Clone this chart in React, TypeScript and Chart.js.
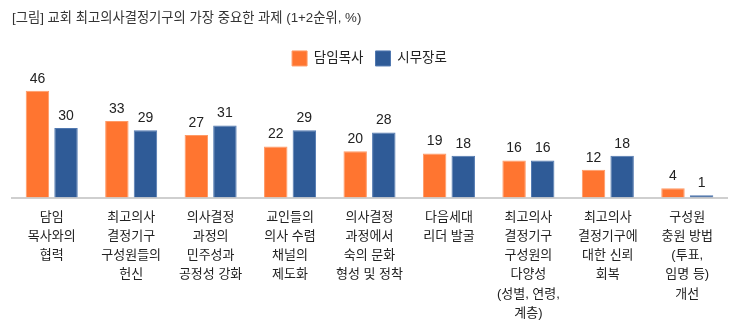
import React, { useEffect, useRef } from "react";
import { Chart, registerables } from "chart.js";

Chart.register(...registerables);

const titleText = "[그림] 교회 최고의사결정기구의 가장 중요한 과제 (1+2순위, %)";
const categories: string[][] = [
  ["담임", "목사와의", "협력"],
  ["최고의사", "결정기구", "구성원들의", "헌신"],
  ["의사결정", "과정의", "민주성과", "공정성 강화"],
  ["교인들의", "의사 수렴", "채널의", "제도화"],
  ["의사결정", "과정에서", "숙의 문화", "형성 및 정착"],
  ["다음세대", "리더 발굴"],
  ["최고의사", "결정기구", "구성원의", "다양성", "(성별, 연령,", "계층)"],
  ["최고의사", "결정기구에", "대한 신뢰", "회복"],
  ["구성원", "충원 방법", "(투표,", "임명 등)", "개선"],
];
const seriesNames = ["담임목사", "시무장로"];
const pastorValues = [46, 33, 27, 22, 20, 19, 16, 12, 4];
const elderValues = [30, 29, 31, 29, 28, 18, 16, 18, 1];
const colors = ["#FF7530", "#2F5B97"];

const FONT = "'Liberation Sans', 'Noto Sans CJK KR', sans-serif";

const valueLabels = {
  id: "valueLabels",
  afterDatasetsDraw(chart: any) {
    const ctx = chart.ctx;
    ctx.save();
    ctx.font = `14px ${FONT}`;
    ctx.fillStyle = "#222";
    ctx.textAlign = "center";
    ctx.textBaseline = "bottom";
    chart.data.datasets.forEach((ds: any, i: number) => {
      const meta = chart.getDatasetMeta(i);
      meta.data.forEach((el: any, j: number) => {
        ctx.fillText(String(ds.data[j]), el.x, el.y - 5);
      });
    });
    ctx.restore();
  },
};

export default function App() {
  const ref = useRef<HTMLCanvasElement>(null);
  useEffect(() => {
    if (!ref.current) return;
    const chart = new Chart(ref.current, {
      type: "bar",
      data: {
        labels: categories,
        datasets: [
          {
            label: seriesNames[0],
            data: pastorValues,
            backgroundColor: colors[0],
            borderColor: "#FF9A66",
            borderWidth: 1,
            barPercentage: 0.82,
            categoryPercentage: 0.72,
          },
          {
            label: seriesNames[1],
            data: elderValues,
            backgroundColor: colors[1],
            borderColor: "#5078B0",
            borderWidth: 1,
            barPercentage: 0.82,
            categoryPercentage: 0.72,
          },
        ],
      },
      options: {
        animation: false,
        responsive: false,
        layout: { padding: { left: 12, right: 13, top: 0, bottom: 0 } },
        plugins: {
          title: {
            display: true,
            text: titleText,
            align: "start",
            color: "#333",
            font: { family: FONT, size: 13.3, weight: "normal" },
            padding: { top: 10, bottom: 13 },
          },
          legend: {
            display: true,
            position: "top",
            labels: {
              boxWidth: 15,
              boxHeight: 15,
              color: "#222",
              font: { family: FONT, size: 13.5 },
              padding: 12,
            },
          },
          tooltip: { enabled: false },
        },
        scales: {
          x: {
            grid: { display: false, drawTicks: false },
            border: { display: true, color: "#cfcfcf", width: 2 },
            ticks: {
              color: "#222",
              font: { family: FONT, size: 13, lineHeight: 1.48 },
              padding: 10,
              maxRotation: 0,
              autoSkip: false,
            },
          },
          y: {
            display: false,
            min: 0,
            max: 52.4,
          },
        },
      },
      plugins: [valueLabels],
    });
    return () => chart.destroy();
  }, []);
  return (
    <div style={{ position: "absolute", left: 0, top: 0, width: 740, height: 332, overflow: "hidden", background: "#fff" }}>
      <canvas ref={ref} width={740} height={333} />
    </div>
  );
}
